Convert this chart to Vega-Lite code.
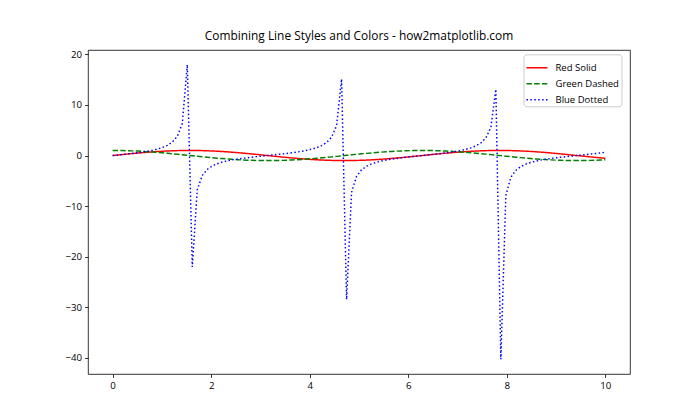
{
 "$schema": "https://vega.github.io/schema/vega-lite/v6.json",
 "width": 542, "height": 324,
 "autosize": {"type": "none"},
 "padding": {"left": 88, "top": 50, "right": 70, "bottom": 46},
 "background": "white",
 "config": {"view": {"stroke": "#000", "strokeWidth": 0.8}, "font": "Open Sans"},
 "title": {"text": "Combining Line Styles and Colors - how2matplotlib.com", "fontSize": 11.9, "fontWeight": "normal", "offset": 6, "color": "black", "anchor": "middle", "font": "Open Sans"},
 "data": {"values": [
  {"x":0,"sin":0,"cos":1,"tan":0},
  {"x":0.1010,"sin":0.1008,"cos":0.9949,"tan":0.1014},
  {"x":0.2020,"sin":0.2007,"cos":0.9797,"tan":0.2048},
  {"x":0.3030,"sin":0.2984,"cos":0.9544,"tan":0.3127},
  {"x":0.4040,"sin":0.3931,"cos":0.9195,"tan":0.4276},
  {"x":0.5051,"sin":0.4839,"cos":0.8752,"tan":0.5529},
  {"x":0.6061,"sin":0.5696,"cos":0.8219,"tan":0.6931},
  {"x":0.7071,"sin":0.6496,"cos":0.7603,"tan":0.8545},
  {"x":0.8081,"sin":0.7230,"cos":0.6909,"tan":1.0464},
  {"x":0.9091,"sin":0.7889,"cos":0.6145,"tan":1.2840},
  {"x":1.0101,"sin":0.8469,"cos":0.5318,"tan":1.5926},
  {"x":1.1111,"sin":0.8962,"cos":0.4437,"tan":2.0200},
  {"x":1.2121,"sin":0.9364,"cos":0.3510,"tan":2.6674},
  {"x":1.3131,"sin":0.9670,"cos":0.2548,"tan":3.7947},
  {"x":1.4141,"sin":0.9878,"cos":0.1560,"tan":6.3311},
  {"x":1.5152,"sin":0.9985,"cos":0.0556,"tan":17.953},
  {"x":1.6162,"sin":0.9990,"cos":-0.0453,"tan":-22.029},
  {"x":1.7172,"sin":0.9893,"cos":-0.1459,"tan":-6.783},
  {"x":1.8182,"sin":0.9696,"cos":-0.2449,"tan":-3.9595},
  {"x":1.9192,"sin":0.9399,"cos":-0.3414,"tan":-2.7532},
  {"x":2.0202,"sin":0.9007,"cos":-0.4344,"tan":-2.0733},
  {"x":2.1212,"sin":0.8523,"cos":-0.5230,"tan":-1.6295},
  {"x":2.2222,"sin":0.7952,"cos":-0.6063,"tan":-1.3116},
  {"x":2.3232,"sin":0.7300,"cos":-0.6834,"tan":-1.0682},
  {"x":2.4242,"sin":0.6574,"cos":-0.7535,"tan":-0.8724},
  {"x":2.5253,"sin":0.5781,"cos":-0.8160,"tan":-0.7084},
  {"x":2.6263,"sin":0.4928,"cos":-0.8701,"tan":-0.5664},
  {"x":2.7273,"sin":0.4026,"cos":-0.9154,"tan":-0.4398},
  {"x":2.8283,"sin":0.3082,"cos":-0.9513,"tan":-0.3240},
  {"x":2.9293,"sin":0.2107,"cos":-0.9775,"tan":-0.2156},
  {"x":3.0303,"sin":0.1111,"cos":-0.9938,"tan":-0.1118},
  {"x":3.1313,"sin":0.0103,"cos":-0.9999,"tan":-0.0103},
  {"x":3.2323,"sin":-0.0906,"cos":-0.9959,"tan":0.0910},
  {"x":3.3333,"sin":-0.1906,"cos":-0.9817,"tan":0.1941},
  {"x":3.4343,"sin":-0.2886,"cos":-0.9575,"tan":0.3014},
  {"x":3.5354,"sin":-0.3837,"cos":-0.9235,"tan":0.4155},
  {"x":3.6364,"sin":-0.4748,"cos":-0.8801,"tan":0.5395},
  {"x":3.7374,"sin":-0.5612,"cos":-0.8277,"tan":0.6780},
  {"x":3.8384,"sin":-0.6418,"cos":-0.7669,"tan":0.8368},
  {"x":3.9394,"sin":-0.7158,"cos":-0.6983,"tan":1.0251},
  {"x":4.0404,"sin":-0.7826,"cos":-0.6225,"tan":1.2571},
  {"x":4.1414,"sin":-0.8414,"cos":-0.5405,"tan":1.5568},
  {"x":4.2424,"sin":-0.8916,"cos":-0.4529,"tan":1.9688},
  {"x":4.3434,"sin":-0.9327,"cos":-0.3606,"tan":2.5862},
  {"x":4.4444,"sin":-0.9643,"cos":-0.2648,"tan":3.6424},
  {"x":4.5455,"sin":-0.9861,"cos":-0.1662,"tan":5.9344},
  {"x":4.6465,"sin":-0.9978,"cos":-0.0659,"tan":15.146},
  {"x":4.7475,"sin":-0.9994,"cos":0.0351,"tan":-28.494},
  {"x":4.8485,"sin":-0.9908,"cos":0.1357,"tan":-7.3025},
  {"x":4.9495,"sin":-0.9720,"cos":0.2349,"tan":-4.1383},
  {"x":5.0505,"sin":-0.9434,"cos":0.3317,"tan":-2.8439},
  {"x":5.1515,"sin":-0.9051,"cos":0.4252,"tan":-2.1289},
  {"x":5.2525,"sin":-0.8576,"cos":0.5143,"tan":-1.6677},
  {"x":5.3535,"sin":-0.8014,"cos":0.5981,"tan":-1.3399},
  {"x":5.4545,"sin":-0.7370,"cos":0.6759,"tan":-1.0904},
  {"x":5.5556,"sin":-0.6651,"cos":0.7468,"tan":-0.8907},
  {"x":5.6566,"sin":-0.5864,"cos":0.8100,"tan":-0.7240},
  {"x":5.7576,"sin":-0.5017,"cos":0.8650,"tan":-0.5800},
  {"x":5.8586,"sin":-0.4120,"cos":0.9112,"tan":-0.4521},
  {"x":5.9596,"sin":-0.3180,"cos":0.9481,"tan":-0.3354},
  {"x":6.0606,"sin":-0.2207,"cos":0.9753,"tan":-0.2263},
  {"x":6.1616,"sin":-0.1213,"cos":0.9926,"tan":-0.1222},
  {"x":6.2626,"sin":-0.0206,"cos":0.9998,"tan":-0.0206},
  {"x":6.3636,"sin":0.0804,"cos":0.9968,"tan":0.0806},
  {"x":6.4646,"sin":0.1805,"cos":0.9836,"tan":0.1835},
  {"x":6.5657,"sin":0.2787,"cos":0.9604,"tan":0.2902},
  {"x":6.6667,"sin":0.3742,"cos":0.9274,"tan":0.4035},
  {"x":6.7677,"sin":0.4658,"cos":0.8849,"tan":0.5263},
  {"x":6.8687,"sin":0.5526,"cos":0.8334,"tan":0.6631},
  {"x":6.9697,"sin":0.6338,"cos":0.7735,"tan":0.8195},
  {"x":7.0707,"sin":0.7086,"cos":0.7056,"tan":1.0043},
  {"x":7.1717,"sin":0.7761,"cos":0.6306,"tan":1.2309},
  {"x":7.2727,"sin":0.8358,"cos":0.5491,"tan":1.5222},
  {"x":7.3737,"sin":0.8869,"cos":0.4620,"tan":1.9197},
  {"x":7.4747,"sin":0.9290,"cos":0.3702,"tan":2.5092},
  {"x":7.5758,"sin":0.9615,"cos":0.2746,"tan":3.5010},
  {"x":7.6768,"sin":0.9843,"cos":0.1763,"tan":5.5838},
  {"x":7.7778,"sin":0.9971,"cos":0.0761,"tan":13.098},
  {"x":7.8788,"sin":0.9997,"cos":-0.0248,"tan":-40.302},
  {"x":7.9798,"sin":0.9921,"cos":-0.1255,"tan":-7.906},
  {"x":8.0808,"sin":0.9744,"cos":-0.2249,"tan":-4.3327},
  {"x":8.1818,"sin":0.9467,"cos":-0.3220,"tan":-2.9402},
  {"x":8.2828,"sin":0.9094,"cos":-0.4158,"tan":-2.1871},
  {"x":8.3838,"sin":0.8629,"cos":-0.5054,"tan":-1.7073},
  {"x":8.4848,"sin":0.8075,"cos":-0.5898,"tan":-1.3690},
  {"x":8.5859,"sin":0.7439,"cos":-0.6683,"tan":-1.1132},
  {"x":8.6869,"sin":0.6727,"cos":-0.7399,"tan":-0.9093},
  {"x":8.7879,"sin":0.5947,"cos":-0.8039,"tan":-0.7397},
  {"x":8.8889,"sin":0.5106,"cos":-0.8598,"tan":-0.5939},
  {"x":8.9899,"sin":0.4213,"cos":-0.9069,"tan":-0.4645},
  {"x":9.0909,"sin":0.3277,"cos":-0.9448,"tan":-0.3469},
  {"x":9.1919,"sin":0.2308,"cos":-0.9730,"tan":-0.2372},
  {"x":9.2929,"sin":0.1315,"cos":-0.9913,"tan":-0.1326},
  {"x":9.3939,"sin":0.0308,"cos":-0.9995,"tan":-0.0308},
  {"x":9.4949,"sin":-0.0701,"cos":-0.9975,"tan":0.0703},
  {"x":9.5960,"sin":-0.1703,"cos":-0.9854,"tan":0.1729},
  {"x":9.6970,"sin":-0.2688,"cos":-0.9632,"tan":0.2791},
  {"x":9.7980,"sin":-0.3646,"cos":-0.9312,"tan":0.3916},
  {"x":9.8990,"sin":-0.4566,"cos":-0.8897,"tan":0.5133},
  {"x":10,"sin":-0.5440,"cos":-0.8391,"tan":0.6484}
 ]},
 "transform": [{"fold": ["sin", "cos", "tan"], "as": ["series", "y"]}],
 "mark": {"type": "line", "strokeWidth": 1.46, "clip": true},
 "encoding": {
  "x": {"field": "x", "type": "quantitative",
        "scale": {"domain": [-0.5, 10.5], "nice": false, "zero": false},
        "axis": {"values": [0, 2, 4, 6, 8, 10], "title": null, "grid": false, "domain": false, "tickColor": "black", "tickSize": 3.4, "tickWidth": 0.8, "labelColor": "black", "labelFontSize": 9.7, "labelPadding": 3, "labelFlush": false, "labelFont": "Open Sans"}},
  "y": {"field": "y", "type": "quantitative",
        "scale": {"domain": [-43.21, 20.87], "nice": false, "zero": false},
        "axis": {"values": [-40, -30, -20, -10, 0, 10, 20], "title": null, "grid": false, "domain": false, "tickColor": "black", "tickSize": 3.4, "tickWidth": 0.8, "labelColor": "black", "labelFontSize": 9.7, "labelPadding": 3, "labelFont": "Open Sans"}},
  "color": {"field": "series", "type": "nominal",
            "scale": {"domain": ["sin", "cos", "tan"], "range": ["#ff0000", "#008000", "#0000ff"]},
            "legend": {"orient": "none", "legendX": 435.5, "legendY": 4.3, "title": null,
                       "labelExpr": "datum.label == 'sin' ? 'Red Solid' : datum.label == 'cos' ? 'Green Dashed' : 'Blue Dotted'",
                       "symbolType": "stroke", "symbolSize": 441, "symbolStrokeWidth": 1.46,
                       "labelFontSize": 9.5, "labelColor": "black", "labelFont": "Open Sans", "labelOffset": 7,
                       "rowPadding": -5, "padding": 2, "fillColor": "white", "strokeColor": "#cccccc", "cornerRadius": 3}},
  "strokeDash": {"field": "series", "type": "nominal",
                 "scale": {"domain": ["sin", "cos", "tan"], "range": [[1, 0], [5.4, 2.3], [1.5, 2.4]]},
                 "legend": {"orient": "none", "legendX": 435.5, "legendY": 4.3, "title": null,
                       "labelExpr": "datum.label == 'sin' ? 'Red Solid' : datum.label == 'cos' ? 'Green Dashed' : 'Blue Dotted'",
                       "symbolType": "stroke", "symbolSize": 441, "symbolStrokeWidth": 1.46,
                       "labelFontSize": 9.5, "labelColor": "black", "labelFont": "Open Sans", "labelOffset": 7,
                       "rowPadding": -5, "padding": 2, "fillColor": "white", "strokeColor": "#cccccc", "cornerRadius": 3}}
 }
}
